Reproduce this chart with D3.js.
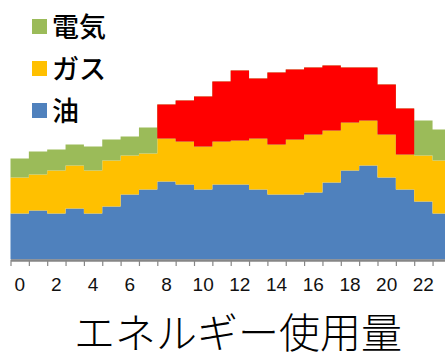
<!DOCTYPE html>
<html>
<head>
<meta charset="utf-8">
<script src="https://cdn.jsdelivr.net/npm/d3@7"></script>
<style>
  body { margin: 0; background: #fff; }
  svg { display: block; }
</style>
</head>
<body>
<svg class="chart"></svg>
<script>
// Data: hourly energy use, stacked (oil at bottom, gas, then electricity)
var hours = d3.range(0, 24);
var oil  = [46, 49, 46, 51, 46, 53, 65, 70, 78, 75, 70, 75, 75, 70, 65, 65, 67, 77, 89, 94, 82, 70, 58, 46];
var gas  = [36, 36, 43, 43, 43, 46, 39, 36, 43, 43, 43, 43, 44, 51, 50, 55, 58, 52, 48, 45, 43, 35, 46, 53];
var elec = [19, 23, 21, 21, 24, 21, 19, 26, 34, 41, 50, 60, 70, 60, 72, 70, 67, 65, 55, 53, 50, 46, 35, 31];
var peakHours = d3.range(8, 22);   // electricity drawn in red during these hours
var tickLabels = ["0", "2", "4", "6", "8", "10", "12", "14", "16", "18", "20", "22"];
var legendNames = ["電気", "ガス", "油"];

var colors = { oil: "#4F81BD", gas: "#FFC000", elec: "#9BBB59", peak: "#FF0000" };

var w = 445,
    h = 359;

var svg = d3.select(".chart")
    .attr("width", w)
    .attr("height", h);

// plot area
var x0 = 10.5, step = 18.35, baseY = 259.5;

var xScale = d3.scaleLinear()
    .domain([0, 24])
    .range([x0, x0 + 24 * step]);

var yScale = d3.scaleLinear()
    .domain([0, 200])
    .range([baseY, baseY - 200]);

// stacked rows
var rows = hours.map(function(hr, i) {
    return { hour: hr, oil: oil[i], gas: gas[i], elec: elec[i] };
});
var stack = d3.stack().keys(["oil", "gas", "elec"]);
var series = stack(rows);

// step points: one at each hour boundary, last one repeated at 24
function stepPoints(s) {
    var pts = s.map(function(d, i) { return { x: i, y0: d[0], y1: d[1] }; });
    var last = s[s.length - 1];
    pts.push({ x: s.length, y0: last[0], y1: last[1] });
    return pts;
}

var area = d3.area()
    .curve(d3.curveStepAfter)
    .x(function(d) { return xScale(d.x); })
    .y0(function(d) { return yScale(d.y0); })
    .y1(function(d) { return yScale(d.y1); });

var g = svg.append("g");

series.forEach(function(s) {
    g.append("path")
        .datum(stepPoints(s))
        .attr("fill", colors[s.key])
        .attr("d", area);
});

// electricity during peak hours in red
var elecSeries = series[2];
var peakPts = peakHours.map(function(hr) {
    var d = elecSeries[hr];
    return { x: hr, y0: d[0], y1: d[1] };
});
var lastPeak = peakHours[peakHours.length - 1];
peakPts.push({ x: lastPeak + 1, y0: elecSeries[lastPeak][0], y1: elecSeries[lastPeak][1] });

g.append("path")
    .datum(peakPts)
    .attr("fill", colors.peak)
    .attr("d", area);

// x axis: ticks at hour boundaries, labels centred on every other bar
var xAxis = d3.axisBottom(xScale)
    .tickValues(d3.range(0, 25))
    .tickFormat("")
    .tickSize(6)
    .tickSizeOuter(0);

var axisG = svg.append("g")
    .attr("transform", "translate(0," + (baseY + 0.5) + ")")
    .call(xAxis);
axisG.select(".domain")
    .attr("stroke", "#868686")
    .attr("stroke-width", 2.5);
axisG.selectAll(".tick line")
    .attr("stroke", "#868686")
    .attr("stroke-width", 1.2);

svg.append("g").selectAll("text")
    .data(tickLabels)
    .join("text")
    .attr("x", function(d) { return xScale(+d + 0.5); })
    .attr("y", 291)
    .attr("text-anchor", "middle")
    .attr("font-family", "Liberation Sans, Arial, sans-serif")
    .attr("font-size", "19px")
    .attr("fill", "#111")
    .text(function(d) { return d; });

// legend
var legendColors = [colors.elec, colors.gas, colors.oil];
var legend = svg.append("g").selectAll("g")
    .data(legendNames)
    .join("g")
    .attr("transform", function(d, i) { return "translate(0," + (37 + i * 42) + ")"; });

legend.append("rect")
    .attr("x", 32)
    .attr("y", -18)
    .attr("width", 15)
    .attr("height", 15)
    .attr("fill", function(d, i) { return legendColors[i]; });

legend.append("text")
    .attr("x", 52)
    .attr("y", 0)
    .attr("font-family", "Noto Sans CJK JP, sans-serif")
    .attr("font-size", "27px")
    .attr("font-weight", 500)
    .attr("fill", "#000")
    .text(function(d) { return d; });

// title below the axis
svg.append("text")
    .attr("x", 238)
    .attr("y", 348)
    .attr("text-anchor", "middle")
    .attr("font-family", "Noto Sans CJK JP, sans-serif")
    .attr("font-size", "41px")
    .attr("font-weight", 300)
    .attr("fill", "#000")
    .text("エネルギー使用量");
</script>
</body>
</html>
